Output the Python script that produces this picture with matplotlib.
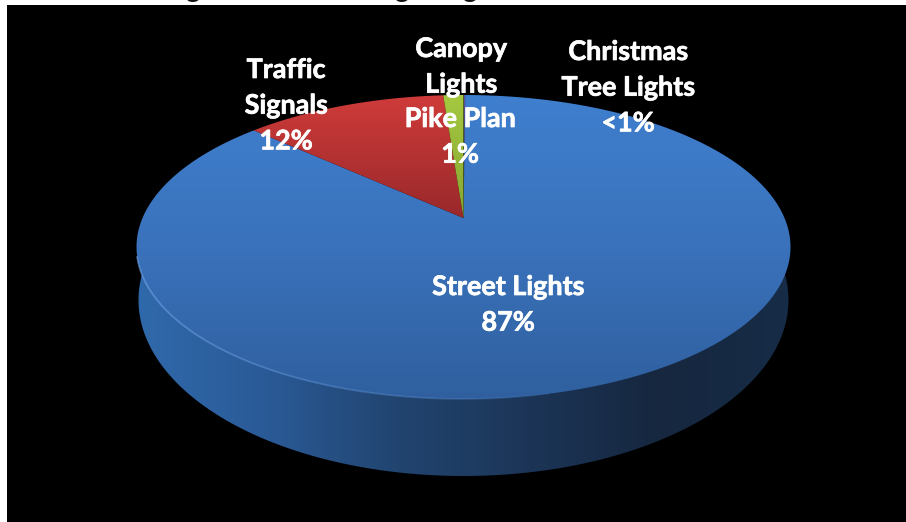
import numpy as np
import matplotlib
matplotlib.use("Agg")
import matplotlib.pyplot as plt
import matplotlib.patheffects as pe
from matplotlib.colors import LinearSegmentedColormap
from matplotlib.patches import Polygon, Rectangle

# slices, clockwise from 12 o'clock
slices = ["Christmas Tree Lights", "Street Lights", "Traffic Signals", "Canopy Lights Pike Plan"]
shares = [0.1, 86.7, 12.0, 1.2]

# (text, centre x, first line y) in picture pixels
labels = [
    (["Canopy", "Lights"], 461, 49),
    (["Christmas", "Tree Lights", "<1%"], 628, 52),
    (["Traffic", "Signals", "12%"], 286, 70),
    (["Pike Plan", "1%"], 460, 119),
    (["Street Lights", "87%"], 508, 287),
]
# what is left of the cut off heading: descenders only
title_g_x = [193, 402, 470]

W, H = 906, 522
cx, cy = 463.5, 247      # centre of the top face ellipse
k = 29.0 / 152.0         # perspective, puts the slice tip above the ellipse centre
a = 327 * np.sqrt(1 - k ** 2)
b = 152.0


def project(x, y):
    d = 1 + k * y
    return cx + a * x / d, cy - (b * y + 29.0) / d


def gradient(ax, clip, colors, extent, horizontal=False, z=2):
    cmap = LinearSegmentedColormap.from_list("g", colors)
    ramp = np.linspace(0, 1, 256)
    ramp = ramp.reshape(1, -1) if horizontal else ramp.reshape(-1, 1)
    im = ax.imshow(ramp, cmap=cmap, extent=extent, aspect="auto", origin="upper",
                   interpolation="bilinear", zorder=z)
    im.set_clip_path(clip)
    return im


fig = plt.figure(figsize=(W / 100, H / 100), dpi=100, facecolor="white")
ax = fig.add_axes([0, 0, 1, 1])
ax.add_patch(Rectangle((7, 5), W - 7, H - 5, color="black", lw=0, zorder=0))

# side wall, a lower ellipse sitting under the top face
t = np.linspace(0, 2 * np.pi, 720)
wall = Polygon(np.c_[cx + 325 * np.cos(t), 300 + 176 * np.sin(t)], closed=True,
               transform=ax.transData, fc="none", ec="none")
ax.add_patch(wall)
gradient(ax, wall, ["#3069ab", "#2a5a96", "#21446f", "#1c3557", "#16273f", "#172c47"],
         (138, 790, 480, 240), horizontal=True, z=1)

# top face, one gradient filled polygon per slice
fills = [
    ["#6a55a8", "#5a4a98"],
    ["#3f7fcf", "#3a72bb", "#2f5f9e"],
    ["#d03c3a", "#98282a"],
    ["#a6c940", "#86a532"],
]
edges = np.cumsum([0] + shares) / sum(shares) * 2 * np.pi
for i, name in enumerate(slices):
    ang = np.linspace(edges[i], edges[i + 1], 400)
    px, py = project(np.sin(ang), np.cos(ang))
    tipx, tipy = project(0.0, 0.0)
    pts = np.r_[[[tipx, tipy]], np.c_[px, py]]
    face = Polygon(pts, closed=True, transform=ax.transData, fc="none", ec="none")
    ax.add_patch(face)
    if name == "Street Lights":
        ext = (130, 800, 402, 92)
    else:
        ext = (130, 800, tipy + 2, 92)
    gradient(ax, face, fills[i], ext, z=3)

# soft highlight along the lower left rim of the face, fading towards the bottom
rim = np.linspace(1.42, 0.93, 60) * np.pi
for j in range(len(rim) - 1):
    rx, ry = project(np.sin(rim[j:j + 2]), np.cos(rim[j:j + 2]))
    ax.plot(rx, ry, color="#6ea3e6", lw=1.3, alpha=0.65 * (1 - j / 60) ** 0.6,
            solid_capstyle="butt", zorder=4)

font = {"family": ["Lato", "DejaVu Sans"], "weight": "bold", "color": "white", "size": 19.4}
for lines, x, y in labels:
    for n, line in enumerate(lines):
        txt = ax.text(x, y + n * 35.7, line, ha="center", va="center", zorder=6, **font)
        txt.set_path_effects([pe.withStroke(linewidth=0.5, foreground="white")])

for x in title_g_x:
    ax.text(x, -3, "g", ha="center", va="baseline", family=["Lato", "DejaVu Sans"],
            weight="bold", size=20, color="#111111", zorder=6)

ax.set_xlim(0, W)
ax.set_ylim(H, 0)
ax.axis("off")
fig.savefig("out.png", dpi=100)
